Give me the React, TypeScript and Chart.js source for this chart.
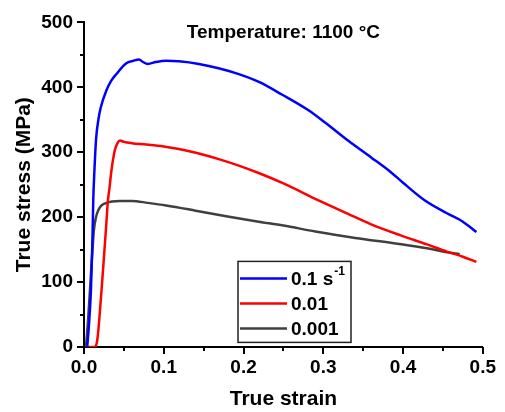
import React, { useEffect, useRef } from 'react';
import { Chart, registerables } from 'chart.js';

Chart.register(...registerables);

// ---- Data ----
const strain01 = [0.004, 0.006, 0.0087, 0.0105, 0.0116, 0.013, 0.015, 0.018, 0.021, 0.028, 0.034, 0.041, 0.053, 0.062, 0.069, 0.074, 0.080, 0.09, 0.103, 0.119, 0.144, 0.17, 0.195, 0.22, 0.248, 0.281, 0.303, 0.331, 0.36, 0.384, 0.40, 0.427, 0.455, 0.475, 0.492];
const stress01 = [0, 30, 88, 160, 226, 270, 318, 350, 369, 395, 410, 421, 437, 441, 443, 439, 436, 439, 441, 440, 436, 429, 420, 408, 389, 365, 345, 318, 292, 270, 253, 226, 206, 193, 177];

const strain001 = [0.004, 0.013, 0.016, 0.018, 0.022, 0.025, 0.028, 0.030, 0.032, 0.034, 0.0386, 0.042, 0.045, 0.05, 0.06, 0.078, 0.1, 0.119, 0.144, 0.17, 0.195, 0.219, 0.25, 0.294, 0.331, 0.36, 0.397, 0.43, 0.455, 0.475, 0.492];
const stress001 = [0, 0, 6, 26, 88, 138, 190, 226, 245, 268, 303, 314, 318, 316, 314, 312, 309, 305, 298, 289, 279, 268, 252, 226, 205, 189, 172, 158, 147, 139, 131];

const strain0001 = [0.0025, 0.005, 0.0075, 0.010, 0.0124, 0.015, 0.018, 0.022, 0.026, 0.035, 0.045, 0.06, 0.08, 0.103, 0.14, 0.18, 0.219, 0.25, 0.29, 0.34, 0.393, 0.43, 0.455, 0.471];
const stress0001 = [0, 40, 88, 138, 180, 200, 211, 218, 221, 224, 225, 225, 222, 218, 210, 201, 193, 187, 178, 168, 159, 152, 146, 143];

const seriesMain = ['0.1 s', '0.01', '0.001'];
const seriesSup = ['-1', '', ''];
const seriesColors = ['#0000ff', '#ff0000', '#404040'];

const xTicks = [0, 0.1, 0.2, 0.3, 0.4, 0.5];
const yTicks = [0, 100, 200, 300, 400, 500];

const titleText = 'Temperature: 1100 °C';
const xTitle = 'True strain';
const yTitle = 'True stress (MPa)';

const FONT = '"Liberation Sans", Arial, sans-serif';

function toPoints(xs: number[], ys: number[]) {
  return xs.map((x, i) => ({ x, y: ys[i] }));
}

const tickPlugin = {
  id: 'axisTicks',
  afterDraw(chart: any) {
    const { ctx, chartArea } = chart;
    const xs = chart.scales.x;
    const ys = chart.scales.y;
    ctx.save();
    ctx.strokeStyle = '#000';
    ctx.lineWidth = 2;
    const xt: [number, number][] = [];
    for (let i = 0; i < xTicks.length; i++) {
      xt.push([xTicks[i], 7]);
      if (i < xTicks.length - 1) xt.push([(xTicks[i] + xTicks[i + 1]) / 2, 4]);
    }
    xt.forEach(([v, len]) => {
      const px = Math.round(xs.getPixelForValue(v));
      ctx.beginPath();
      ctx.moveTo(px, chartArea.bottom);
      ctx.lineTo(px, chartArea.bottom + len);
      ctx.stroke();
    });
    const yt: [number, number][] = [];
    for (let i = 0; i < yTicks.length; i++) {
      yt.push([yTicks[i], 7]);
      if (i < yTicks.length - 1) yt.push([(yTicks[i] + yTicks[i + 1]) / 2, 4]);
    }
    yt.forEach(([v, len]) => {
      const py = Math.round(ys.getPixelForValue(v));
      ctx.beginPath();
      ctx.moveTo(chartArea.left, py);
      ctx.lineTo(chartArea.left - len, py);
      ctx.stroke();
    });
    ctx.restore();
  },
};

const overlayPlugin = {
  id: 'overlay',
  afterDraw(chart: any) {
    const { ctx, chartArea } = chart;
    ctx.save();
    // title inside plot
    ctx.font = `bold 19px ${FONT}`;
    ctx.fillStyle = '#000';
    ctx.textAlign = 'center';
    ctx.textBaseline = 'alphabetic';
    ctx.fillText(titleText, (chartArea.left + chartArea.right) / 2, chartArea.top + 16);

    // legend box
    const lx = chartArea.left + 154;
    const ly = chartArea.top + 239;
    const lw = 113;
    const lh = 81;
    ctx.fillStyle = '#fff';
    ctx.fillRect(lx, ly, lw, lh);
    ctx.strokeStyle = '#222';
    ctx.lineWidth = 1.5;
    ctx.strokeRect(lx, ly, lw, lh);
    chart.data.datasets.forEach((ds: any, i: number) => {
      const cy = ly + 17 + i * 25;
      ctx.strokeStyle = ds.borderColor;
      ctx.lineWidth = 2.5;
      ctx.beginPath();
      ctx.moveTo(lx + 2, cy);
      ctx.lineTo(lx + 49, cy);
      ctx.stroke();
      ctx.fillStyle = '#000';
      ctx.textAlign = 'left';
      ctx.textBaseline = 'middle';
      ctx.font = `bold 19px ${FONT}`;
      ctx.fillText(seriesMain[i], lx + 53, cy + 1);
      if (seriesSup[i]) {
        const w = ctx.measureText(seriesMain[i]).width;
        ctx.font = `bold 12px ${FONT}`;
        ctx.fillText(seriesSup[i], lx + 53 + w + 1, cy - 7);
      }
    });
    ctx.restore();
  },
};

export default function App() {
  const ref = useRef<HTMLCanvasElement | null>(null);
  useEffect(() => {
    if (!ref.current) return;
    const chart = new Chart(ref.current, {
      type: 'scatter',
      data: {
        datasets: [
          { label: seriesMain[0], data: toPoints(strain01, stress01), borderColor: seriesColors[0] },
          { label: seriesMain[1], data: toPoints(strain001, stress001), borderColor: seriesColors[1] },
          { label: seriesMain[2], data: toPoints(strain0001, stress0001), borderColor: seriesColors[2] },
        ].map((d) => ({
          ...d,
          showLine: true,
          pointRadius: 0,
          borderWidth: 2.5,
          cubicInterpolationMode: 'monotone' as const,
          backgroundColor: d.borderColor,
        })),
      },
      options: {
        responsive: false,
        animation: false,
        devicePixelRatio: window.devicePixelRatio || 1,
        layout: { padding: { top: 22, right: 19, left: 0, bottom: 0 } },
        plugins: {
          legend: { display: false },
          tooltip: { enabled: false },
          title: { display: false },
        },
        scales: {
          x: {
            type: 'linear',
            min: 0,
            max: 0.5,
            afterFit: (s: any) => { s.height = 65; },
            afterBuildTicks: (s: any) => { s.ticks = xTicks.map((v) => ({ value: v })); },
            ticks: {
              padding: 9,
              color: '#000',
              font: { family: FONT, size: 19, weight: 'bold' },
              callback: (v: any) => Number(v).toFixed(1),
            },
            grid: { display: false, drawTicks: false },
            border: { display: true, color: '#000', width: 2 },
            title: {
              display: true,
              text: xTitle,
              color: '#000',
              font: { family: FONT, size: 21, weight: 'bold' },
              padding: { top: 0, bottom: 0 },
            },
          },
          y: {
            type: 'linear',
            min: 0,
            max: 500,
            afterFit: (s: any) => { s.width = 84; },
            afterBuildTicks: (s: any) => { s.ticks = yTicks.map((v) => ({ value: v })); },
            ticks: {
              padding: 11,
              color: '#000',
              font: { family: FONT, size: 19, weight: 'bold' },
              callback: (v: any) => String(v),
            },
            grid: { display: false, drawTicks: false },
            border: { display: true, color: '#000', width: 2 },
            title: {
              display: true,
              text: yTitle,
              color: '#000',
              font: { family: FONT, size: 21, weight: 'bold' },
              padding: { top: 12, bottom: 0 },
            },
          },
        },
      } as any,
      plugins: [tickPlugin, overlayPlugin],
    });
    return () => chart.destroy();
  }, []);
  return (
    <div style={{ position: 'absolute', left: 0, top: 0, width: 505, height: 412, background: '#fff' }}>
      <canvas ref={ref} width={505} height={412} style={{ display: 'block', width: 505, height: 412 }} />
    </div>
  );
}
